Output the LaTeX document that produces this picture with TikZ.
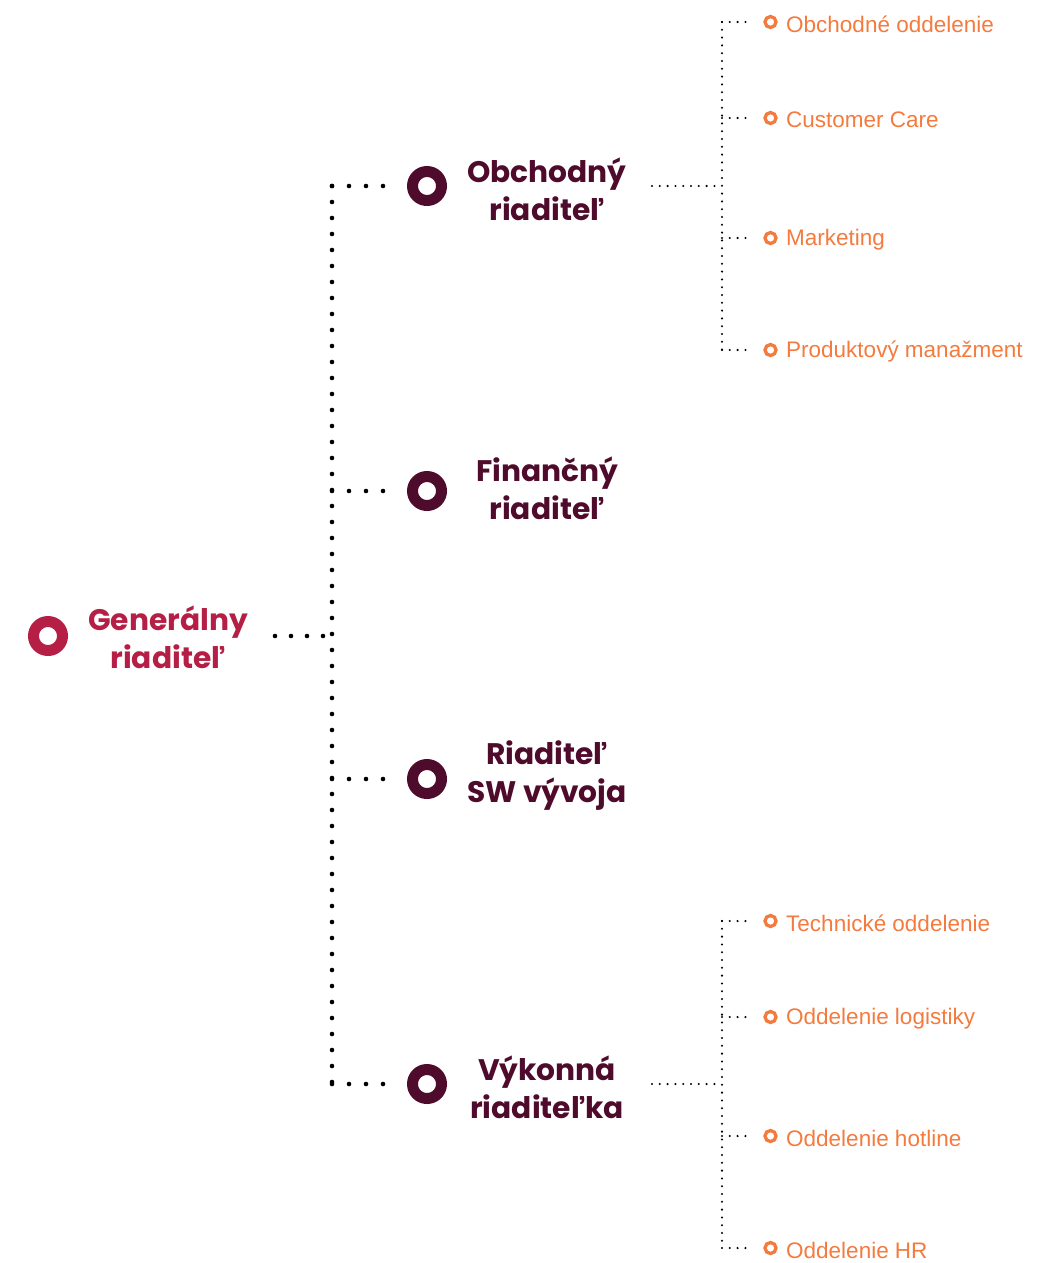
\documentclass[tikz,border=0pt]{standalone}
\usepackage{fontspec}
\setmainfont{Liberation Sans}
\newfontfamily\titlefont{Poppins}
\definecolor{gencol}{HTML}{B51F45}
\definecolor{plum}{HTML}{4F0B2B}
\definecolor{orng}{HTML}{F47A3D}
\tikzset{
  bigdots/.style={line width=4.6pt, line cap=round, dash pattern=on 0pt off 16pt},
  branchdots/.style={line width=4.6pt, line cap=round, dash pattern=on 0pt off 17pt},
  smalldots/.style={line width=2.3pt, line cap=round, dash pattern=on 0pt off 7.8pt},
  ringbig/.style={circle, draw=#1, line width=11pt, minimum size=29pt, inner sep=0pt},
  ringsmall/.style={circle, draw=orng, line width=3.3pt, minimum size=11pt, inner sep=0pt},
  toptitle/.style={text=#1, font=\titlefont\bfseries\fontsize{29.7}{38}\selectfont, align=center, inner sep=0pt},
  leaf/.style={text=orng, font=\fontsize{22.5}{26}\selectfont, anchor=west, inner sep=0pt},
}
\begin{document}
\begin{tikzpicture}[x=1pt,y=-1pt]
\useasboundingbox (0,0) rectangle (1046,1263);
% root
\node[ringbig=gencol] (gc) at (48,636) {};
\node[toptitle=gencol] (gt) at (168,637) {Generálny\\riaditeľ};
\coordinate (gs) at (275,636);
\coordinate (j0) at (332,636);
\coordinate (jtop) at (332,186);
\coordinate (jbot) at (332,1084);
\draw[bigdots] (gs) -- (j0);
\draw[bigdots] (jtop) -- (jbot);
% level 2
\foreach \n/\y/\o/\t in {a/186/3/{Obchodný\\riaditeľ}, b/491/-3/{Finančný\\riaditeľ}, c/779/-3/{Riaditeľ\\SW vývoja}, d/1084/3/{Výkonná\\riaditeľka}}{
  \coordinate (s\n) at (332,\y);
  \coordinate (e\n) at (383,\y);
  \node[ringbig=plum] (c\n) at (427,\y) {};
  \node[toptitle=plum] (t\n) at (547,\y+\o) {\t};
  \draw[branchdots] (s\n) -- (e\n);
}
% upper leaves
\coordinate (ua) at (652,186);
\coordinate (uj) at (722,186);
\coordinate (ut) at (722,22);
\coordinate (ub) at (722,350);
\draw[smalldots] (ua) -- (uj);
\draw[smalldots] (ut) -- (ub);
\foreach \n/\y/\t in {1/22/{Obchodné oddelenie}, 2/118/{Customer Care}, 3/238/{Marketing}, 4/350/{Produktový manažment}}{
  \coordinate (us\n) at (722,\y);
  \coordinate (ue\n) at (752,\y);
  \node[ringsmall] (uc\n) at (770.5,\y) {};
  \node[leaf] (ul\n) at (786,\y+2) {\t};
  \draw[smalldots] (us\n) -- (ue\n);
}
% lower leaves
\coordinate (la) at (652,1084);
\coordinate (lj) at (722,1084);
\coordinate (lt) at (722,921);
\coordinate (lb) at (722,1248);
\draw[smalldots] (la) -- (lj);
\draw[smalldots] (lt) -- (lb);
\foreach \n/\y/\t in {1/921/{Technické oddelenie}, 2/1017/{Oddelenie logistiky}, 3/1136/{Oddelenie hotline}, 4/1248/{Oddelenie HR}}{
  \coordinate (ls\n) at (722,\y);
  \coordinate (le\n) at (752,\y);
  \node[ringsmall] (lc\n) at (770.5,\y) {};
  \node[leaf] (ll\n) at (786,\y+2) {\t};
  \draw[smalldots] (ls\n) -- (le\n);
}
\end{tikzpicture}
\end{document}
